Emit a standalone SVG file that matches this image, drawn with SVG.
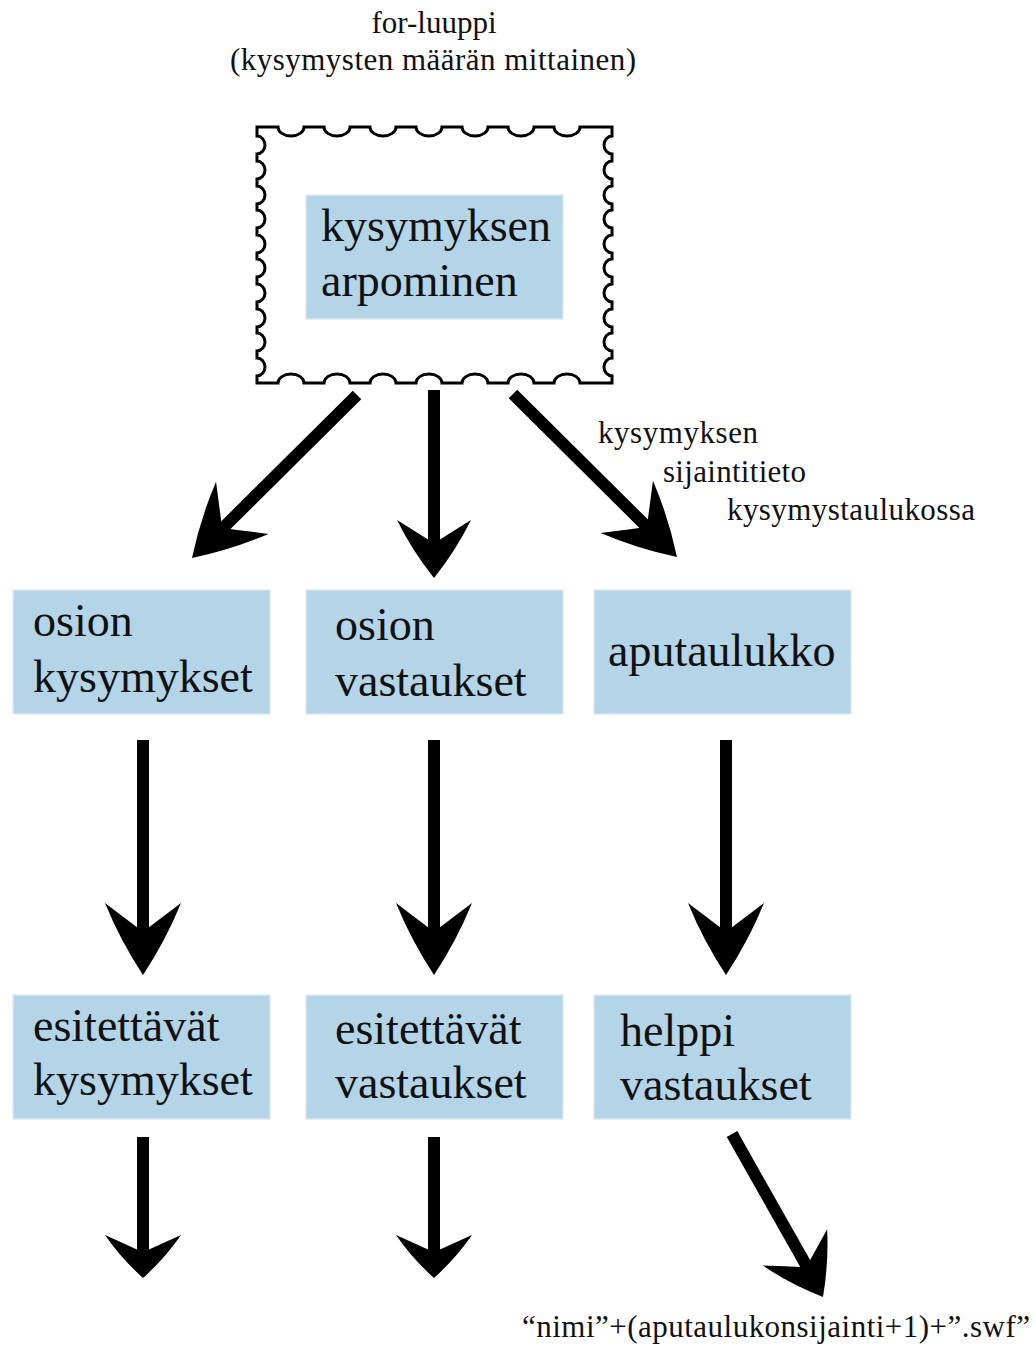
<svg xmlns="http://www.w3.org/2000/svg" xmlns:xlink="http://www.w3.org/1999/xlink" width="1035" height="1346" viewBox="0 0 1035 1346">
<style>
.t{font-family:"Liberation Serif","Times New Roman",serif;fill:#111;}
.big{font-size:46px;}
.sm{font-size:31px;}
.box{fill:#b4d4e8;stroke:#dde9f2;stroke-width:1.5;}
.shaft{stroke:#000;stroke-width:12;fill:none;}
.frame{fill:#fff;stroke:#000;stroke-width:3;stroke-linejoin:miter;}
</style>
<defs>
<path id="head" d="M0,0 Q0.6,-0.48 1,-1 Q0.5,-0.8 0,-0.6 Q-0.5,-0.8 -1,-1 Q-0.6,-0.48 0,0 Z" fill="#000"/>
</defs>
<rect width="1035" height="1346" fill="#fff"/>

<g id="title">
<text class="t sm" x="434" y="33" text-anchor="middle">for-luuppi</text>
<text class="t sm" x="433" y="70" text-anchor="middle" textLength="406">(kysymysten määrän mittainen)</text>
</g>

<g id="loop">
<path class="frame" d="M257,127 L278,127 A13,9 0 0 0 304,127 L324,127 A13,9 0 0 0 350,127 L370,127 A13,9 0 0 0 396,127 L416,127 A13,9 0 0 0 442,127 L462,127 A13,9 0 0 0 488,127 L508,127 A13,9 0 0 0 534,127 L554,127 A13,9 0 0 0 580,127 L612,127 L612,136 A8,9 0 0 0 612,154 L612,161 A8,9 0 0 0 612,179 L612,186 A8,9 0 0 0 612,204 L612,210 A8,9 0 0 0 612,228 L612,235 A8,9 0 0 0 612,253 L612,259 A8,9 0 0 0 612,277 L612,284 A8,9 0 0 0 612,302 L612,309 A8,9 0 0 0 612,327 L612,333 A8,9 0 0 0 612,351 L612,358 A8,9 0 0 0 612,376 L612,383 L580,383 A13,9 0 0 0 554,383 L534,383 A13,9 0 0 0 508,383 L488,383 A13,9 0 0 0 462,383 L442,383 A13,9 0 0 0 416,383 L396,383 A13,9 0 0 0 370,383 L350,383 A13,9 0 0 0 324,383 L304,383 A13,9 0 0 0 278,383 L257,383 L257,376 A8,9 0 0 0 257,358 L257,351 A8,9 0 0 0 257,333 L257,327 A8,9 0 0 0 257,309 L257,302 A8,9 0 0 0 257,284 L257,277 A8,9 0 0 0 257,259 L257,253 A8,9 0 0 0 257,235 L257,228 A8,9 0 0 0 257,210 L257,204 A8,9 0 0 0 257,186 L257,179 A8,9 0 0 0 257,161 L257,154 A8,9 0 0 0 257,136 Z"/>
</g>

<g id="n-arpominen">
<rect class="box" x="306" y="195" width="257" height="124"/>
<text class="t big" x="321" y="241">kysymyksen</text>
<text class="t big" x="321" y="296">arpominen</text>
</g>

<g id="n-osion-kysymykset">
<rect class="box" x="13" y="590" width="257" height="124"/>
<text class="t big" x="33" y="636">osion</text>
<text class="t big" x="33" y="692">kysymykset</text>
</g>
<g id="n-osion-vastaukset">
<rect class="box" x="306" y="590" width="257" height="124"/>
<text class="t big" x="335" y="640">osion</text>
<text class="t big" x="335" y="696">vastaukset</text>
</g>
<g id="n-aputaulukko">
<rect class="box" x="594" y="590" width="257" height="124"/>
<text class="t big" x="608" y="666">aputaulukko</text>
</g>

<g id="n-esitettavat-kysymykset">
<rect class="box" x="13" y="995" width="257" height="124"/>
<text class="t big" x="33" y="1041">esitettävät</text>
<text class="t big" x="33" y="1095">kysymykset</text>
</g>
<g id="n-esitettavat-vastaukset">
<rect class="box" x="306" y="995" width="257" height="124"/>
<text class="t big" x="335" y="1044">esitettävät</text>
<text class="t big" x="335" y="1098">vastaukset</text>
</g>
<g id="n-helppi">
<rect class="box" x="594" y="995" width="257" height="124"/>
<text class="t big" x="620" y="1046">helppi</text>
<text class="t big" x="620" y="1100">vastaukset</text>
</g>

<g id="labels">
<text class="t sm" x="598" y="443" textLength="160">kysymyksen</text>
<text class="t sm" x="663" y="482" textLength="143">sijaintitieto</text>
<text class="t sm" x="727" y="520" textLength="248">kysymystaulukossa</text>
<text class="t sm" x="522" y="1337" textLength="508">“nimi”+(aputaulukonsijainti+1)+”.swf”</text>
</g>

<g id="connectors">
<line class="shaft" x1="357" y1="395" x2="220" y2="531"/>
<use xlink:href="#head" transform="translate(192,558) rotate(45) scale(37,71)"/>
<line class="shaft" x1="434" y1="390" x2="434" y2="550"/>
<use xlink:href="#head" transform="translate(434,578) scale(37,58)"/>
<line class="shaft" x1="513" y1="394" x2="650" y2="530"/>
<use xlink:href="#head" transform="translate(677,557) rotate(-45) scale(37,71)"/>

<line class="shaft" x1="143" y1="740" x2="143" y2="940"/>
<use xlink:href="#head" transform="translate(143,975) scale(38,72)"/>
<line class="shaft" x1="434" y1="740" x2="434" y2="940"/>
<use xlink:href="#head" transform="translate(434,975) scale(38,72)"/>
<line class="shaft" x1="726" y1="740" x2="726" y2="940"/>
<use xlink:href="#head" transform="translate(726,975) scale(38,72)"/>

<line class="shaft" x1="143" y1="1137" x2="143" y2="1260"/>
<use xlink:href="#head" transform="translate(143,1278) scale(38,43)"/>
<line class="shaft" x1="434" y1="1137" x2="434" y2="1260"/>
<use xlink:href="#head" transform="translate(434,1278) scale(38,43)"/>

<line class="shaft" x1="732" y1="1134" x2="810" y2="1272"/>
<use xlink:href="#head" transform="translate(823,1297) rotate(-29.5) scale(37,57)"/>
</g>
</svg>
